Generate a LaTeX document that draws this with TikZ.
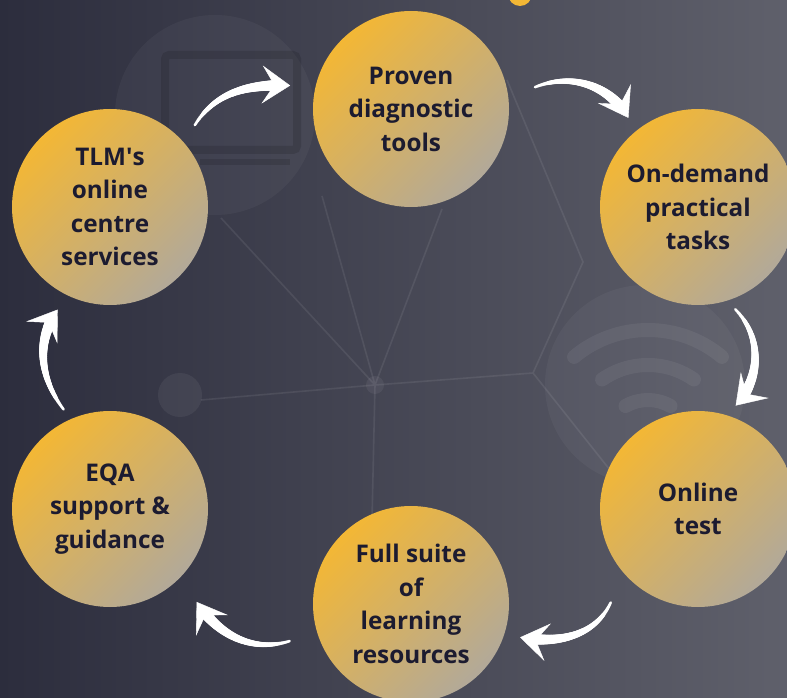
\documentclass[tikz,border=0pt]{standalone}
\usepackage{fontspec}
\setmainfont{Open Sans}
\usetikzlibrary{calc,arrows.meta,decorations.markings}

\definecolor{bgdark}{HTML}{2C2D3D}
\definecolor{bgmid}{HTML}{3F404F}
\definecolor{bglight}{HTML}{5F606B}
\definecolor{bubblegold}{HTML}{F3B735}
\definecolor{bubblegrey}{HTML}{B2A999}
\definecolor{bubbletext}{HTML}{1C1B30}

\begin{document}
\begin{tikzpicture}[x=1pt, y=1pt,
        bubble/.style={circle, minimum size=196pt, inner sep=0pt, align=center,
            top color=bubblegold, bottom color=bubblegrey, shading angle=45,
            text=bubbletext, font=\fontsize{24.3}{33.5}\selectfont\bfseries},
        brush/.style={decoration={markings,
            mark=between positions 0 and 0.88 step 0.7pt with {
                \pgfmathsetmacro\brushw{1.4+4.6*\pgfkeysvalueof{/pgf/decoration/mark info/distance from start}/\pgfdecoratedpathlength}
                \fill[white] (0,0) circle (\brushw pt);},
            mark=at position 1 with {\arrow[white]{Stealth[length=28pt, width=38pt, inset=12pt]}}},
            postaction={decorate}},
        net/.style={white, opacity=0.08, line width=1.6pt}
    ]
    \clip (0,0) rectangle (787,697);
    % backdrop
    \shade[left color=bgdark, middle color=bgmid, right color=bglight] (0,0) rectangle (787,697);
    \begin{scope}[yshift=697pt, yscale=-1]
        \fill[white, opacity=0.04] (215,115) circle (100) (645,385) circle (100);
        \fill[white, opacity=0.06] (180,395) circle (22) (375,385) circle (9);
        \draw[net] (375,385) -- (221,218) (375,385) -- (322,196) (375,385) -- (442,209)
            (375,385) -- (533,373) -- (583,262) -- (507,80) (375,385) -- (372,520)
            (375,385) -- (201,400) (533,373) -- (610,470);
        \draw[black, opacity=0.12, line width=8pt, rounded corners=4pt] (165,55) rectangle (297,150);
        \draw[black, opacity=0.12, line width=6pt] (200,162) -- (290,162);
        \draw[white, opacity=0.06, line width=14pt, line cap=round]
            (648,445) ++(230:115) arc[start angle=230, end angle=310, radius=115]
            (648,445) ++(235:80) arc[start angle=235, end angle=305, radius=80]
            (648,445) ++(240:45) arc[start angle=240, end angle=300, radius=45];
    \end{scope}
    \fill[bubblegold] (520,703) circle (12);

    % the six stages
    \node[bubble] (proven) at (411,588) {Proven\\diagnostic\\tools};
    \node[bubble] (ondemand) at (698,490) {On-demand\\practical\\tasks};
    \node[bubble] (online) at (698,188) {Online\\test};
    \node[bubble] (suite) at (411,93) {Full suite\\of\\learning\\resources};
    \node[bubble] (eqa) at (110,188) {EQA\\support \&\\guidance};
    \node[bubble] (tlm) at (110,490) {TLM\textquotesingle s\\online\\centre\\services};

    % arrows round the cycle
    \path[brush] ($(tlm)+(44:118)$) to[out=58, in=178] ($(proven)+(169:123)$);
    \path[brush] ($(proven)+(10:126)$) to[out=22, in=120] ($(ondemand)+(128:113)$);
    \path[brush] ($(ondemand)+(-70:109)$) to[out=-45, in=47] ($(online)+(70:110)$);
    \path[brush] ($(online)+(227:128)$) to[out=245, in=-10] ($(suite)+(-17:114)$);
    \path[brush] ($(suite)+(197:127)$) to[out=197, in=-57] ($(eqa)+(-47:127)$);
    \path[brush] ($(eqa)+(115:110)$) to[out=127, in=-125] ($(tlm)+(243:115)$);
\end{tikzpicture}
\end{document}
